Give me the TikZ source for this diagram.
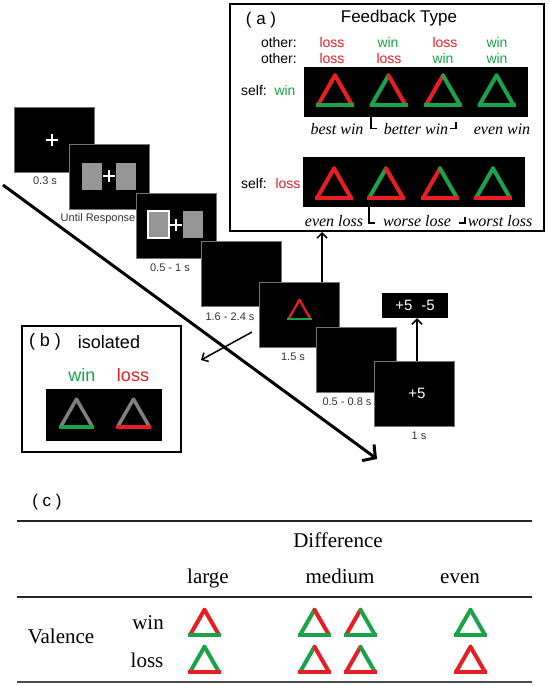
\documentclass[tikz,border=0pt]{standalone}
\usepackage{fontspec}
\setmainfont{Liberation Serif}
\setsansfont{Liberation Sans}
\usetikzlibrary{arrows.meta}
\definecolor{fbred}{RGB}{232,30,36}
\definecolor{fbgreen}{RGB}{26,163,72}
\definecolor{scrgray}{RGB}{150,150,150}
\definecolor{trigray}{RGB}{128,128,128}
% cx, base y, width, line width (number), left colour, right colour, bottom colour
\newcommand{\fbtri}[7]{%
  \draw[line width=#4pt,color=#5,line cap=round] ({#1-#3/2},#2) -- ({#1},{#2-0.87*#3});
  \draw[line width=#4pt,color=#6,line cap=round] ({#1+#3/2},#2) -- ({#1},{#2-0.87*#3});
  \draw[line width=#4pt,color=#7,line cap=rect] ({#1-#3/2},#2) -- ({#1+#3/2},#2);
}
\newcommand{\fixcross}[2]{%
  \draw[white,line width=2.5pt] ({#1-6},#2) -- ({#1+6},#2) ({#1},{#2-6}) -- ({#1},{#2+6});
}
\tikzset{
  screen/.style={fill=black,draw=black!55,line width=0.6pt,minimum width=80pt,minimum height=65pt,inner sep=0pt},
  blackstrip/.style={fill=black,draw=none,inner sep=0pt},
  panel/.style={draw=black,line width=2pt,inner sep=0pt},
  tlabel/.style={font=\sffamily\fontsize{11}{13}\selectfont,text=black!80,inner sep=0pt},
  ttl/.style={font=\sffamily\fontsize{17}{20}\selectfont,inner sep=0pt},
  oth/.style={font=\sffamily\fontsize{14}{16}\selectfont,inner sep=0pt},
  itl/.style={font=\rmfamily\itshape\fontsize{16}{18}\selectfont,inner sep=0pt},
  tab/.style={font=\rmfamily\fontsize{21}{24}\selectfont,inner sep=0pt,anchor=base},
  arr/.style={line width=1.5pt,-{Straight Barb[length=5pt,width=10pt,line width=1.5pt]}},
  bigarr/.style={line width=3pt,-{Straight Barb[length=9pt,width=20pt,line width=3pt]}},
  brk/.style={line width=1.5pt},
  rule/.style={line width=1.3pt,black!85}
}
\begin{document}
\begin{tikzpicture}[x=1pt,y=-1pt]
\useasboundingbox (0,0) rectangle (549,685);

% ---------- panel (a) ----------
\node[panel,minimum width=314pt,minimum height=227pt] (abox) at (387,117.5) {};
\node[ttl] (alab) at (261,20) {( a )};
\node[ttl] (atitle) at (399,18) {Feedback Type};
\node[oth,anchor=east] (oth1) at (297,42) {other:};
\node[oth,anchor=east] (oth2) at (297,58) {other:};
\node[oth,text=fbred] (o11) at (332,42) {loss};
\node[oth,text=fbgreen] (o12) at (388,42) {win};
\node[oth,text=fbred] (o13) at (445,42) {loss};
\node[oth,text=fbgreen] (o14) at (497,42) {win};
\node[oth,text=fbred] (o21) at (332,58) {loss};
\node[oth,text=fbred] (o22) at (389,58) {loss};
\node[oth,text=fbgreen] (o23) at (443,58) {win};
\node[oth,text=fbgreen] (o24) at (497,58) {win};

\node[blackstrip,minimum width=224pt,minimum height=50pt] (stripA1) at (416,92) {};
\node[oth] (self1) at (254,90) {self:};
\node[oth,text=fbgreen] (self1v) at (285,90) {win};
\fbtri{335}{105}{34}{4}{fbred}{fbred}{fbgreen}
\fbtri{388.5}{105}{34}{4}{fbgreen}{fbred}{fbgreen}
\fbtri{443}{105}{34}{4}{fbred}{fbgreen}{fbgreen}
\fbtri{496.5}{105}{34}{4}{fbgreen}{fbgreen}{fbgreen}
\node[itl] (l11) at (337,129) {best win};
\node[itl] (l12) at (416,129) {better win};
\node[itl] (l13) at (502,129) {even win};
\draw[brk] (371,117) -- (371,128.5) -- (377,128.5);
\draw[brk] (456,122) -- (456,128.5) -- (450,128.5);

\node[blackstrip,minimum width=222pt,minimum height=50pt] (stripA2) at (414,182) {};
\node[oth] (self2) at (254,183) {self:};
\node[oth,text=fbred] (self2v) at (288,183) {loss};
\fbtri{334}{198}{34}{4}{fbred}{fbred}{fbred}
\fbtri{386}{198}{34}{4}{fbgreen}{fbred}{fbred}
\fbtri{440}{198}{34}{4}{fbred}{fbgreen}{fbred}
\fbtri{493}{198}{34}{4}{fbgreen}{fbgreen}{fbred}
\node[itl] (l21) at (334,221) {even loss};
\node[itl] (l22) at (417,221) {worse lose};
\node[itl] (l23) at (500,221) {worst loss};
\draw[brk] (369,207) -- (369,223) -- (375,223);
\draw[brk] (465,217) -- (465,223) -- (459,223);

% ---------- timeline ----------
\coordinate (dstart) at (3,185);
\coordinate (dend) at (377,459);
\draw[bigarr] (dstart) -- (dend);

\node[screen] (s1) at (54.5,139.5) {};
\fixcross{52}{140}
\node[tlabel] (t1) at (45,181) {0.3 s};

\node[screen] (s2) at (109,176.5) {};
\fill[scrgray] (82,163) rectangle (102,190);
\fill[scrgray] (116,163) rectangle (136,190);
\fixcross{109}{176}
\node[tlabel] (t2) at (98,219) {Until Response};

\node[screen] (s3) at (176.5,225.5) {};
\draw[scrgray,fill=scrgray] (148,211) rectangle (169,238);
\draw[white,line width=1.2pt] (148,211) rectangle (169,238);
\fill[scrgray] (183,211) rectangle (203,238);
\fixcross{176}{225}
\node[tlabel] (t3) at (170,268) {0.5 - 1 s};

\node[screen] (s4) at (241.5,273.5) {};
\node[tlabel] (t4) at (230,317) {1.6 - 2.4 s};

\node[screen] (s5) at (299,314.5) {};
\fbtri{299.5}{319}{22}{2.2}{fbred}{fbred}{fbgreen}
\node[tlabel] (t5) at (293,357) {1.5 s};

\node[screen] (s6) at (356,359.5) {};
\node[tlabel] (t6) at (347,402) {0.5 - 0.8 s};

\node[screen] (s7) at (414,393.5) {};
\node[font=\sffamily\fontsize{15}{17}\selectfont,text=white,inner sep=0pt] (s7txt) at (417,393) {+5};
\node[tlabel] (t7) at (419,436) {1 s};

\node[fill=black,minimum width=66pt,minimum height=25pt,inner sep=0pt,
      font=\sffamily\fontsize{15}{17}\selectfont,text=white] (fb) at (415,305.5) {+5\hspace{9pt}-5};

\coordinate (up1) at (322,282);
\draw[arr] (up1) -- (up1 |- abox.south);
\coordinate (up2) at (417,361);
\draw[arr] (up2) -- (up2 |- fb.south);

\coordinate (bstart) at (252,332);
\coordinate (bend) at (201,360);
\draw[arr] (bstart) -- (bend);

% ---------- panel (b) ----------
\node[panel,minimum width=159pt,minimum height=126pt] (bbox) at (101.5,389) {};
\node[font=\sffamily\fontsize{18}{21}\selectfont,inner sep=0pt] (blab) at (45,342) {( b )};
\node[font=\sffamily\fontsize{18}{21}\selectfont,inner sep=0pt] (btitle) at (109,342) {isolated};
\node[font=\sffamily\fontsize{18}{21}\selectfont,inner sep=0pt,text=fbgreen] (bwin) at (82,375) {win};
\node[font=\sffamily\fontsize{18}{21}\selectfont,inner sep=0pt,text=fbred] (bloss) at (133,375) {loss};
\node[blackstrip,minimum width=116pt,minimum height=52pt] (stripB) at (104,415) {};
\fbtri{76.5}{427}{32}{3.5}{trigray}{trigray}{fbgreen}
\fbtri{133.5}{427}{32}{3.5}{trigray}{trigray}{fbred}

% ---------- panel (c) ----------
\node[ttl] (clab) at (47,502) {( c )};
\coordinate (r1a) at (17,521);
\coordinate (r1b) at (532,521);
\draw[rule] (r1a) -- (r1b);
\coordinate (r2a) at (17,597);
\coordinate (r2b) at (532,597);
\draw[rule] (r2a) -- (r2b);
\coordinate (r3a) at (17,682);
\coordinate (r3b) at (532,682);
\draw[line width=2.5pt,black!70] (r3a) -- (r3b);

\node[tab] (cdiff) at (338,547) {Difference};
\node[tab] (clarge) at (208,583) {large};
\node[tab] (cmed) at (340,583) {medium};
\node[tab] (ceven) at (460,583) {even};
\node[tab] (cval) at (61,643) {Valence};
\node[tab] (cwin) at (148,629) {win};
\node[tab] (closs) at (147,667) {loss};

\fbtri{204.5}{635}{29}{4}{fbred}{fbred}{fbgreen}
\fbtri{314.5}{635}{29}{4}{fbgreen}{fbred}{fbgreen}
\fbtri{360.5}{635}{29}{4}{fbred}{fbgreen}{fbgreen}
\fbtri{470.5}{635}{29}{4}{fbgreen}{fbgreen}{fbgreen}
\fbtri{204.5}{672}{29}{4}{fbgreen}{fbgreen}{fbred}
\fbtri{314.5}{672}{29}{4}{fbgreen}{fbred}{fbred}
\fbtri{360.5}{672}{29}{4}{fbred}{fbgreen}{fbred}
\fbtri{470.5}{672}{29}{4}{fbred}{fbred}{fbred}
\end{tikzpicture}
\end{document}
